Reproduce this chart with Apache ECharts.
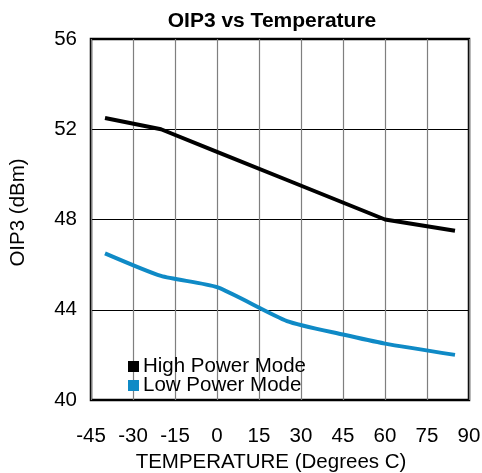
<!DOCTYPE html>
<html>
<head>
<meta charset="utf-8">
<script src="https://cdn.jsdelivr.net/npm/echarts@6/dist/echarts.min.js"></script>
<style>
  html, body { margin: 0; padding: 0; background: #fff; }
  #chart { width: 482px; height: 473px; }
</style>
</head>
<body>
<div id="chart"></div>
<script>
// temperatures (deg C) and OIP3 (dBm)
const highTemps = [-40, -20, 0, 25, 60, 85];
const highOip3 = [52.5, 52.0, 51.0, 49.75, 48.0, 47.5];
const lowTemps = [-40, -20, 0, 25, 45, 60, 85];
const lowOip3 = [46.5, 45.5, 45.0, 43.5, 42.9, 42.5, 42.0];
const seriesNames = ["High Power Mode", "Low Power Mode"];

const font = "Liberation Sans, Arial, sans-serif";
const fs = 20.5;
const myChart = echarts.init(document.getElementById("chart"));

myChart.setOption({
  animation: false,
  title: {
    text: "OIP3 vs Temperature",
    left: 267,
    textAlign: "center",
    top: 6,
    textStyle: { fontFamily: font, fontSize: 21, fontWeight: "bold", color: "#000" }
  },
  legend: {
    data: seriesNames,
    orient: "vertical",
    left: 128,
    top: 356,
    padding: 0,
    icon: "rect",
    itemWidth: 11,
    itemHeight: 11,
    itemGap: -2,
    textStyle: { fontFamily: font, fontSize: fs, color: "#000", padding: [0, 0, 0, -1] }
  },
  grid: {
    left: 91,
    right: 13,
    top: 39,
    bottom: 73,
    outerBoundsMode: "none",
    show: true,
    borderColor: "#000",
    borderWidth: 2.5
  },
  xAxis: {
    type: "value",
    min: -45,
    max: 90,
    interval: 15,
    name: "TEMPERATURE (Degrees C)",
    nameLocation: "middle",
    nameGap: 49,
    nameTextStyle: { fontFamily: font, fontSize: fs, color: "#000", padding: [0, 18, 0, 0] },
    axisLine: { show: false },
    axisTick: { show: false },
    axisLabel: { fontFamily: font, fontSize: fs, color: "#000", margin: 26 },
    splitLine: { show: true, lineStyle: { color: "#7f7f7f", width: 1.2 } }
  },
  yAxis: {
    type: "value",
    min: 40,
    max: 56,
    interval: 4,
    name: "OIP3 (dBm)",
    nameLocation: "middle",
    nameGap: 62,
    nameTextStyle: { fontFamily: font, fontSize: fs, color: "#000", padding: [0, 0, 0, 14] },
    axisLine: { show: false },
    axisTick: { show: false },
    axisLabel: { fontFamily: font, fontSize: fs, color: "#000", margin: 14 },
    splitLine: { show: true, lineStyle: { color: "#000", width: 1 } }
  },
  series: [
    {
      name: seriesNames[0],
      type: "line",
      data: highTemps.map((t, i) => [t, highOip3[i]]),
      symbol: "none",
      itemStyle: { color: "#000" },
      lineStyle: { color: "#000", width: 4 }
    },
    {
      name: seriesNames[1],
      type: "line",
      data: lowTemps.map((t, i) => [t, lowOip3[i]]),
      symbol: "none",
      smooth: 0.2,
      itemStyle: { color: "#0f8ac6" },
      lineStyle: { color: "#0f8ac6", width: 4 }
    }
  ]
});
</script>
</body>
</html>
